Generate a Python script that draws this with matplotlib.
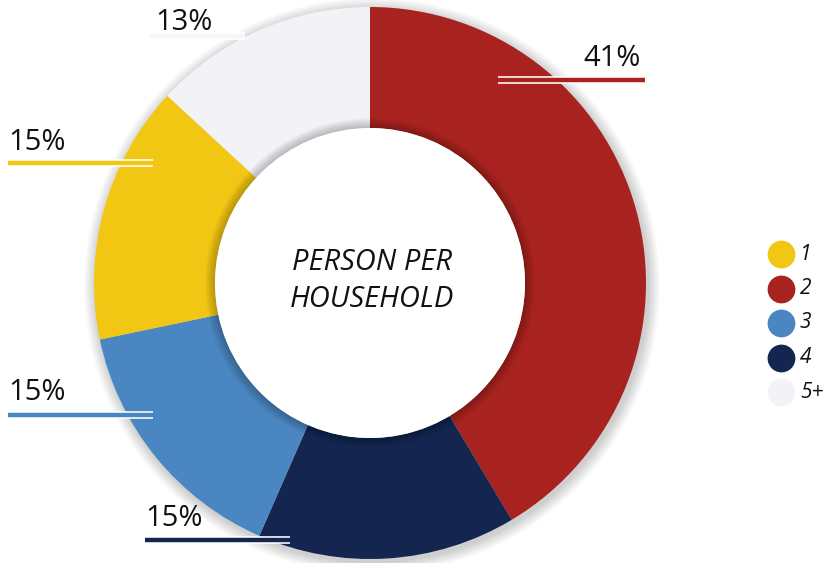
import matplotlib

matplotlib.use("Agg")
import matplotlib.pyplot as plt
import matplotlib.patheffects as pe
from matplotlib.patches import Circle, Wedge

plt.rcParams["font.family"] = ["Open Sans", "DejaVu Sans"]

# data, in clockwise order from 12 o'clock
categories = ["2", "4", "3", "1", "5+"]
shares = [41, 15, 15, 15, 13]
slice_colors = ["#A8231F", "#14264F", "#4A86C1", "#F2C714", "#F3F3F7"]
legend_order = ["1", "2", "3", "4", "5+"]
center_title = "PERSON PER\nHOUSEHOLD"

W, H = 824, 563
CX, CY = 370, H - 283
R_OUT, R_IN = 276, 155

fig = plt.figure(figsize=(W / 100, H / 100), dpi=100)
ax = fig.add_axes([0, 0, 1, 1])

# soft drop shadow behind the ring
for k in range(12):
    ax.add_patch(Circle((CX + 2, CY - 3), R_OUT + 12 - k, color="black",
                        alpha=0.014, lw=0, zorder=0))

wedges, _ = ax.pie(
    shares,
    colors=slice_colors,
    startangle=90,
    counterclock=False,
    center=(CX, CY),
    radius=R_OUT,
    wedgeprops=dict(width=R_OUT - R_IN, linewidth=0),
)

# inner shadow along the hole
for k in range(10):
    ax.add_patch(Wedge((CX, CY), R_IN + 10 - k, 0, 360, width=10 - k,
                       color="black", alpha=0.025, lw=0, zorder=3))
ax.add_patch(Circle((CX, CY), R_IN, color="white", lw=0, zorder=4))

ax.text(CX + 2, CY + 2, center_title, ha="center", va="center", fontsize=21,
        style="italic", linespacing=1.35, color="#111111", zorder=5)

# percentage labels with leader lines: (text x, text y, ha, line x0, line x1, line y)
label_layout = {
    "2": (641, 58, "right", 498, 645, 80),
    "1": (8, 143, "left", 8, 153, 163),
    "3": (8, 393, "left", 8, 153, 415),
    "4": (145, 519, "left", 145, 290, 540),
    "5+": (155, 22, "left", 150, 245, 36),
}
color_of = dict(zip(categories, slice_colors))
for cat, val in zip(categories, shares):
    tx, ty, ha, x0, x1, ly = label_layout[cat]
    col = color_of[cat] if cat != "5+" else "#F6F6F6"
    ax.plot([x0, x1], [H - ly, H - ly], color=col, lw=3.2, solid_capstyle="butt",
            zorder=6,
            path_effects=[pe.Stroke(linewidth=5.5, foreground="white"), pe.Normal()])
    ax.text(tx, H - ty, f"{val}%", ha=ha, va="center", fontsize=21,
            color="#111111", zorder=7)

# legend drawn as colored dots
for i, cat in enumerate(legend_order):
    y = H - (254 + i * 34.5)
    ax.scatter([781], [y], s=400, color=color_of[cat], lw=0, zorder=6)
    ax.text(800, y, cat, ha="left", va="center", fontsize=15, style="italic",
            color="#111111")

ax.set_xlim(0, W)
ax.set_ylim(0, H)
ax.set_aspect("equal")
ax.axis("off")

fig.savefig("out.png", dpi=100)
